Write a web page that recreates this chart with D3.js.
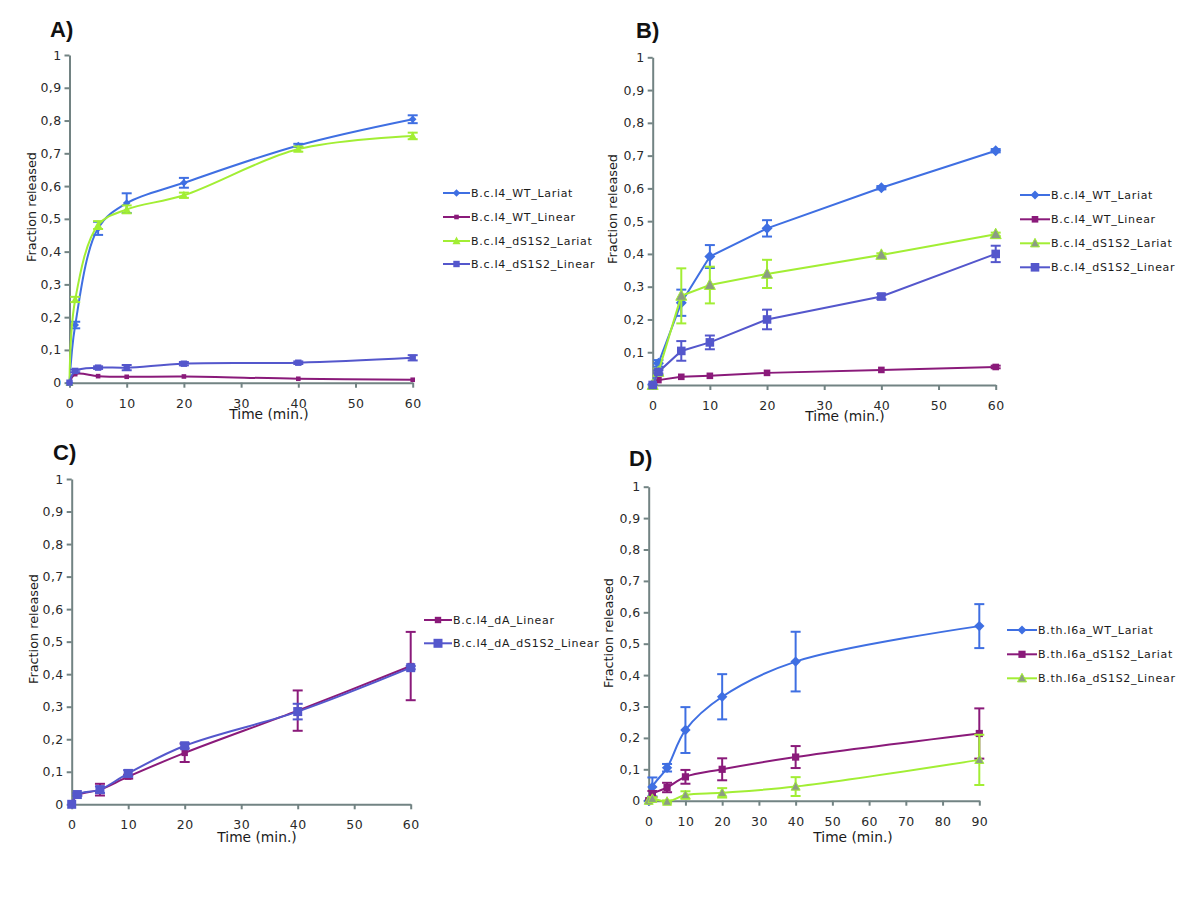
<!DOCTYPE html>
<html><head><meta charset="utf-8">
<script src="https://cdn.jsdelivr.net/npm/d3@7"></script>
<style>body{margin:0;background:#fff}svg{display:block}</style>
</head><body><svg id="c" width="1200" height="899"></svg>
<script>
// ---------- data ----------
const timeABC = [0, 1, 5, 10, 20, 40, 60];
const timeD = [0, 1, 5, 10, 20, 40, 90];
const xTicks60 = [0, 10, 20, 30, 40, 50, 60];
const xTicks90 = [0, 10, 20, 30, 40, 50, 60, 70, 80, 90];
const yTicks = [0, 0.1, 0.2, 0.3, 0.4, 0.5, 0.6, 0.7, 0.8, 0.9, 1];
const yTickLabels = ["0", "0,1", "0,2", "0,3", "0,4", "0,5", "0,6", "0,7", "0,8", "0,9", "1"];
const panelLabels = ["A)", "B)", "C)", "D)"];
const yTitle = "Fraction released";
const xTitle = "Time (min.)";

// Panel A
const A_names = ["B.c.I4_WT_Lariat", "B.c.I4_WT_Linear", "B.c.I4_dS1S2_Lariat", "B.c.I4_dS1S2_Linear"];
const A_WT_Lariat = [0, 0.176, 0.471, 0.548, 0.61, 0.724, 0.804];
const A_WT_Lariat_err = [0, 0.01, 0.02, 0.03, 0.015, 0.005, 0.012];
const A_WT_Linear = [0, 0.026, 0.02, 0.018, 0.019, 0.012, 0.009];
const A_WT_Linear_err = [0, 0, 0, 0, 0, 0, 0];
const A_dS1S2_Lariat = [0, 0.254, 0.481, 0.529, 0.572, 0.713, 0.753];
const A_dS1S2_Lariat_err = [0, 0.008, 0.012, 0.012, 0.008, 0.008, 0.01];
const A_dS1S2_Linear = [0, 0.036, 0.046, 0.046, 0.058, 0.061, 0.076];
const A_dS1S2_Linear_err = [0, 0.004, 0.004, 0.008, 0.005, 0.004, 0.008];

// Panel B
const B_names = ["B.c.I4_WT_Lariat", "B.c.I4_WT_Linear", "B.c.I4_dS1S2_Lariat", "B.c.I4_dS1S2_Linear"];
const B_WT_Lariat = [0.002, 0.066, 0.251, 0.392, 0.478, 0.602, 0.715];
const B_WT_Lariat_err = [0, 0.01, 0.04, 0.035, 0.025, 0.005, 0.005];
const B_WT_Linear = [0, 0.015, 0.025, 0.028, 0.037, 0.046, 0.055];
const B_WT_Linear_err = [0, 0.002, 0.002, 0.002, 0.002, 0.003, 0.004];
const B_dS1S2_Lariat = [0, 0.04, 0.272, 0.305, 0.339, 0.397, 0.46];
const B_dS1S2_Lariat_err = [0, 0.01, 0.084, 0.056, 0.043, 0.005, 0.005];
const B_dS1S2_Linear = [0, 0.04, 0.104, 0.13, 0.2, 0.27, 0.4];
const B_dS1S2_Linear_err = [0, 0.005, 0.03, 0.021, 0.03, 0.008, 0.025];

// Panel C
const C_names = ["B.c.I4_dA_Linear", "B.c.I4_dA_dS1S2_Linear"];
const C_dA_Linear = [0, 0.028, 0.045, 0.085, 0.158, 0.288, 0.425];
const C_dA_Linear_err = [0, 0.003, 0.018, 0.006, 0.028, 0.062, 0.105];
const C_dA_dS1S2_Linear = [0, 0.03, 0.045, 0.095, 0.18, 0.285, 0.42];
const C_dA_dS1S2_Linear_err = [0, 0.004, 0.01, 0.01, 0.008, 0.024, 0.005];

// Panel D
const D_names = ["B.th.I6a_WT_Lariat", "B.th.I6a_dS1S2_Lariat", "B.th.I6a_dS1S2_Linear"];
const D_WT_Lariat = [0, 0.044, 0.105, 0.225, 0.331, 0.443, 0.556];
const D_WT_Lariat_err = [0, 0.03, 0.012, 0.073, 0.072, 0.095, 0.07];
const D_dS1S2_Lariat = [0, 0.021, 0.042, 0.076, 0.1, 0.139, 0.214];
const D_dS1S2_Lariat_err = [0, 0.01, 0.015, 0.022, 0.035, 0.035, 0.08];
const D_dS1S2_Linear = [0, 0.006, -0.003, 0.018, 0.025, 0.045, 0.13];
const D_dS1S2_Linear_err = [0, 0.005, 0.004, 0.012, 0.015, 0.03, 0.08];

// ---------- styles ----------
const BLUE = "#3f6fe2", PURPLE = "#8a1a7a", GREEN = "#a2ee34", SLATE = "#5457cc", TRIGRAY = "#8c9c84";
const AXIS = "#728383";

const svg = d3.select("#c");

function marker(sel, shape, r) {
  let p;
  if (shape === "diamond") p = `M0,${-r}L${r},0L0,${r}L${-r},0Z`;
  else if (shape === "square") p = `M${-r},${-r}H${r}V${r}H${-r}Z`;
  else p = `M0,${-r * 1.1}L${r},${r * 0.8}L${-r},${r * 0.8}Z`;
  return sel.append("path").attr("d", p);
}

const panels = [
  { label: panelLabels[0], lx: 50, ly: 37, left: 69.5, right: 412.7, top: 55, bottom: 382.7, xMax: 60, xTicks: xTicks60,
    ytx: 31, yty: 207, xtx: 269, xty: 419, curve: d3.curveCatmullRom.alpha(0.5),
    legX: 443, legY: [193, 217, 241, 264], legLen: 27,
    series: [
      { name: A_names[0], t: timeABC, v: A_WT_Lariat, e: A_WT_Lariat_err, color: BLUE, shape: "diamond", fill: BLUE, r: 3.8 },
      { name: A_names[1], t: timeABC, v: A_WT_Linear, e: A_WT_Linear_err, color: PURPLE, shape: "square", fill: PURPLE, r: 2.3 },
      { name: A_names[2], t: timeABC, v: A_dS1S2_Lariat, e: A_dS1S2_Lariat_err, color: GREEN, shape: "tri", fill: GREEN, r: 4 },
      { name: A_names[3], t: timeABC, v: A_dS1S2_Linear, e: A_dS1S2_Linear_err, color: SLATE, shape: "square", fill: SLATE, r: 3.2 }
    ] },
  { label: panelLabels[1], lx: 636, ly: 38, left: 652.7, right: 995.7, top: 57.3, bottom: 385, xMax: 60, xTicks: xTicks60,
    ytx: 612, yty: 209, xtx: 845, xty: 421, curve: d3.curveLinear,
    legX: 1020, legY: [195, 219.3, 243.3, 267.3], legLen: 30,
    series: [
      { name: B_names[0], t: timeABC, v: B_WT_Lariat, e: B_WT_Lariat_err, color: BLUE, shape: "diamond", fill: BLUE, r: 5.5 },
      { name: B_names[1], t: timeABC, v: B_WT_Linear, e: B_WT_Linear_err, color: PURPLE, shape: "square", fill: PURPLE, r: 3.3 },
      { name: B_names[2], t: timeABC, v: B_dS1S2_Lariat, e: B_dS1S2_Lariat_err, color: GREEN, shape: "tri", fill: TRIGRAY, r: 5.5 },
      { name: B_names[3], t: timeABC, v: B_dS1S2_Linear, e: B_dS1S2_Linear_err, color: SLATE, shape: "square", fill: SLATE, r: 4.3 }
    ] },
  { label: panelLabels[2], lx: 53, ly: 460, left: 71.7, right: 410.7, top: 479, bottom: 804.3, xMax: 60, xTicks: xTicks60,
    ytx: 33, yty: 629, xtx: 257, xty: 842, curve: d3.curveCatmullRom.alpha(0.5),
    legX: 424, legY: [620, 643.3], legLen: 28,
    series: [
      { name: C_names[0], t: timeABC, v: C_dA_Linear, e: C_dA_Linear_err, color: PURPLE, shape: "square", fill: PURPLE, r: 3.2 },
      { name: C_names[1], t: timeABC, v: C_dA_dS1S2_Linear, e: C_dA_dS1S2_Linear_err, color: SLATE, shape: "square", fill: SLATE, r: 4.5 }
    ] },
  { label: panelLabels[3], lx: 629, ly: 466, left: 648.7, right: 979.3, top: 486.7, bottom: 800.7, xMax: 90, xTicks: xTicks90,
    ytx: 608.5, yty: 633, xtx: 853, xty: 842, curve: d3.curveCatmullRom.alpha(0.5),
    legX: 1007, legY: [630, 654.3, 678.3], legLen: 30,
    series: [
      { name: D_names[0], t: timeD, v: D_WT_Lariat, e: D_WT_Lariat_err, color: BLUE, shape: "diamond", fill: BLUE, r: 5.2 },
      { name: D_names[1], t: timeD, v: D_dS1S2_Lariat, e: D_dS1S2_Lariat_err, color: PURPLE, shape: "square", fill: PURPLE, r: 3.6 },
      { name: D_names[2], t: timeD, v: D_dS1S2_Linear, e: D_dS1S2_Linear_err, color: GREEN, shape: "tri", fill: TRIGRAY, r: 4.5 }
    ] }
];

panels.forEach(p => {
  const g = svg.append("g");
  const x = d3.scaleLinear().domain([0, p.xMax]).range([p.left, p.right]);
  const y = d3.scaleLinear().domain([0, 1]).range([p.bottom, p.top]);

  // axes
  const ya = g.append("g").attr("transform", `translate(${p.left},0)`)
    .call(d3.axisLeft(y).tickValues(yTicks).tickFormat((d, i) => yTickLabels[i]).tickSize(5).tickSizeOuter(0).tickPadding(3));
  const xa = g.append("g").attr("transform", `translate(0,${p.bottom})`)
    .call(d3.axisBottom(x).tickValues(p.xTicks).tickFormat(d => d).tickSize(5).tickSizeOuter(0).tickPadding(11));
  [ya, xa].forEach(a => {
    a.select(".domain").attr("stroke", AXIS).attr("stroke-width", 2);
    a.selectAll(".tick line").attr("stroke", AXIS).attr("stroke-width", 2);
    a.selectAll(".tick text").attr("fill", "#2a2a2a").style("font-family", "'DejaVu Sans', sans-serif")
      .style("font-size", "12.5px").style("letter-spacing", "0.4px");
  });

  // titles
  g.append("text").attr("x", p.lx).attr("y", p.ly).text(p.label)
    .style("font-family", "'Liberation Sans', Arial, sans-serif").style("font-weight", "bold").style("font-size", "22px").attr("fill", "#111");
  g.append("text").attr("transform", `translate(${p.ytx},${p.yty}) rotate(-90)`).attr("text-anchor", "middle")
    .attr("dominant-baseline", "central").text(yTitle)
    .style("font-family", "'DejaVu Sans', sans-serif").style("font-size", "12.8px").attr("fill", "#1a1a1a");
  g.append("text").attr("x", p.xtx).attr("y", p.xty).attr("text-anchor", "middle").text(xTitle)
    .style("font-family", "'DejaVu Sans', sans-serif").style("font-size", "13.8px").attr("fill", "#1a1a1a");

  // series
  p.series.forEach(s => {
    const pts = s.t.map((t, i) => ({ t, v: s.v[i], e: s.e[i] }));
    const line = d3.line().x(d => x(d.t)).y(d => y(d.v)).curve(p.curve);
    g.append("path").datum(pts).attr("d", line).attr("fill", "none").attr("stroke", s.color).attr("stroke-width", 2);
    const eb = g.append("g").attr("stroke", s.color).attr("stroke-width", 2).attr("fill", "none");
    pts.filter(d => d.e > 0.003).forEach(d => {
      const cx = x(d.t), y1 = y(d.v + d.e), y0 = y(d.v - d.e);
      eb.append("line").attr("x1", cx).attr("x2", cx).attr("y1", y1).attr("y2", y0);
      eb.append("line").attr("x1", cx - 5).attr("x2", cx + 5).attr("y1", y1).attr("y2", y1);
      eb.append("line").attr("x1", cx - 5).attr("x2", cx + 5).attr("y1", y0).attr("y2", y0);
    });
    pts.forEach(d => {
      marker(g, s.shape, s.r).attr("transform", `translate(${x(d.t)},${y(d.v)})`).attr("fill", s.fill)
        .attr("stroke", s.fill === s.color ? "none" : s.color).attr("stroke-width", 1);
    });
  });

  // legend
  p.series.forEach((s, i) => {
    const ly = p.legY[i];
    g.append("line").attr("x1", p.legX).attr("x2", p.legX + p.legLen).attr("y1", ly).attr("y2", ly)
      .attr("stroke", s.color).attr("stroke-width", 2);
    marker(g, s.shape, Math.min(s.r, 4.5)).attr("transform", `translate(${p.legX + p.legLen / 2},${ly})`)
      .attr("fill", s.fill).attr("stroke", s.fill === s.color ? "none" : s.color).attr("stroke-width", 1);
    g.append("text").attr("x", p.legX + p.legLen + 1).attr("y", ly).attr("dominant-baseline", "central").text(s.name)
      .style("font-family", "'DejaVu Sans', sans-serif").style("font-size", "11px").style("letter-spacing", "0.7px").attr("fill", "#1a1a1a");
  });
});
</script></body></html>
